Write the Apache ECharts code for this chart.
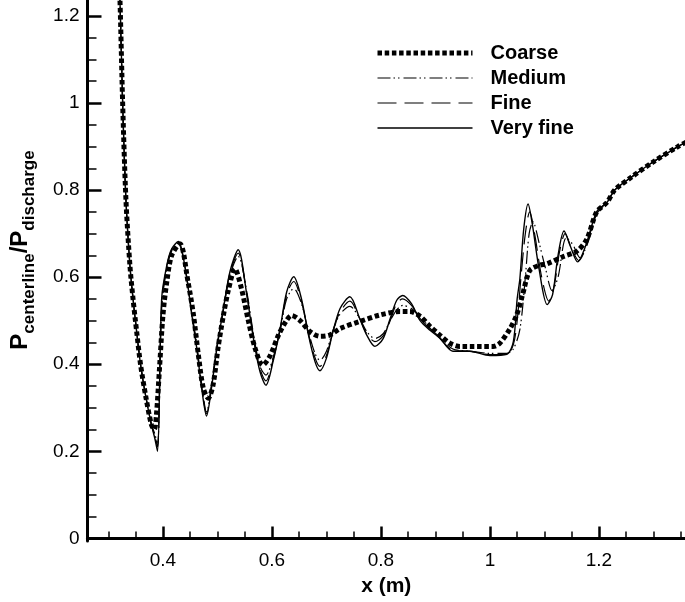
<!DOCTYPE html>
<html>
<head>
<meta charset="utf-8">
<script src="https://cdn.jsdelivr.net/npm/echarts@6/dist/echarts.min.js"></script>
<style>
  html, body { margin: 0; padding: 0; background: #fff; }
  #chart { width: 685px; height: 602px; }
</style>
</head>
<body>
<div id="chart"></div>
<script>
// tick positions
const xTicks = [0.4, 0.6, 0.8, 1, 1.2]
const xMinor = [0.3, 0.35, 0.45, 0.5, 0.55, 0.65, 0.7, 0.75, 0.85, 0.9, 0.95, 1.05, 1.1, 1.15, 1.25, 1.3, 1.35]
const yTicks = [0, 0.2, 0.4, 0.6, 0.8, 1, 1.2]
const yMinor = [0.05, 0.1, 0.15, 0.25, 0.3, 0.35, 0.45, 0.5, 0.55, 0.65, 0.7, 0.75, 0.85, 0.9, 0.95, 1.05, 1.1, 1.15]

// Very fine mesh (solid)
const veryFineX = [0.316, 0.321, 0.326, 0.332, 0.3394, 0.345, 0.3517, 0.359, 0.369, 0.379,
  0.385, 0.390, 0.3976, 0.407, 0.416, 0.428, 0.44, 0.453, 0.462, 0.471,
  0.48, 0.489, 0.499, 0.511, 0.523, 0.538, 0.554, 0.566, 0.578, 0.589,
  0.602, 0.615, 0.627, 0.640, 0.654, 0.667, 0.679, 0.688, 0.700, 0.712,
  0.725, 0.743, 0.761, 0.774, 0.789, 0.804, 0.817, 0.829, 0.840, 0.856,
  0.872, 0.89, 0.908, 0.932, 0.963, 1.0, 1.031, 1.043, 1.05, 1.055,
  1.062, 1.07, 1.078, 1.09, 1.105, 1.115, 1.125, 1.136, 1.148, 1.161,
  1.175, 1.196, 1.215, 1.229, 1.26, 1.30, 1.345, 1.36]
const veryFineY = [1.40, 1.24, 1.0, 0.779, 0.626, 0.551, 0.475, 0.398, 0.322, 0.26,
  0.23, 0.20, 0.551, 0.627, 0.665, 0.682, 0.627, 0.513, 0.437, 0.345,
  0.281, 0.345, 0.437, 0.528, 0.613, 0.663, 0.558, 0.459, 0.383, 0.352,
  0.406, 0.482, 0.566, 0.601, 0.551, 0.467, 0.406, 0.385, 0.414, 0.475,
  0.528, 0.555, 0.505, 0.467, 0.441, 0.459, 0.505, 0.547, 0.558, 0.539,
  0.50, 0.478, 0.46, 0.43, 0.43, 0.42, 0.423, 0.452, 0.55, 0.597,
  0.71, 0.768, 0.72, 0.62, 0.537, 0.56, 0.65, 0.706, 0.67, 0.635,
  0.67, 0.75, 0.772, 0.80, 0.83, 0.865, 0.90, 0.91]

// Fine mesh (long dash)
const fineX = [0.316, 0.321, 0.326, 0.332, 0.3394, 0.345, 0.3517, 0.359, 0.369, 0.379,
  0.385, 0.390, 0.3976, 0.407, 0.416, 0.428, 0.44, 0.453, 0.462, 0.471,
  0.48, 0.489, 0.499, 0.511, 0.523, 0.538, 0.554, 0.566, 0.578, 0.589,
  0.602, 0.615, 0.627, 0.640, 0.654, 0.667, 0.679, 0.688, 0.700, 0.712,
  0.725, 0.743, 0.761, 0.774, 0.789, 0.804, 0.817, 0.829, 0.840, 0.856,
  0.872, 0.89, 0.908, 0.932, 0.963, 1.0, 1.031, 1.043, 1.05, 1.057,
  1.065, 1.073, 1.082, 1.095, 1.108, 1.118, 1.128, 1.138, 1.15, 1.163,
  1.178, 1.196, 1.215, 1.229, 1.26, 1.30, 1.345, 1.36]
const fineY = [1.40, 1.24, 1.0, 0.779, 0.626, 0.551, 0.475, 0.398, 0.322, 0.26,
  0.235, 0.21, 0.54, 0.625, 0.663, 0.68, 0.627, 0.515, 0.44, 0.35,
  0.286, 0.35, 0.44, 0.528, 0.61, 0.655, 0.56, 0.465, 0.39, 0.362,
  0.41, 0.48, 0.56, 0.59, 0.545, 0.47, 0.415, 0.395, 0.42, 0.475,
  0.52, 0.545, 0.505, 0.47, 0.452, 0.465, 0.5, 0.54, 0.55, 0.535,
  0.505, 0.48, 0.46, 0.432, 0.43, 0.422, 0.423, 0.445, 0.50, 0.60,
  0.70, 0.75, 0.70, 0.60, 0.545, 0.58, 0.66, 0.70, 0.665, 0.638,
  0.675, 0.75, 0.772, 0.80, 0.83, 0.865, 0.90, 0.91]

// Medium mesh (dash-dot-dot)
const mediumX = [0.316, 0.321, 0.326, 0.332, 0.3394, 0.345, 0.3517, 0.359, 0.369, 0.379,
  0.385, 0.390, 0.3976, 0.407, 0.416, 0.428, 0.44, 0.453, 0.462, 0.471,
  0.48, 0.489, 0.499, 0.511, 0.523, 0.538, 0.554, 0.566, 0.578, 0.589,
  0.602, 0.615, 0.627, 0.640, 0.654, 0.667, 0.679, 0.688, 0.700, 0.712,
  0.725, 0.743, 0.761, 0.774, 0.789, 0.804, 0.817, 0.829, 0.840, 0.856,
  0.872, 0.89, 0.908, 0.932, 0.963, 1.0, 1.031, 1.043, 1.055, 1.065,
  1.072, 1.079, 1.09, 1.102, 1.114, 1.125, 1.14, 1.152, 1.165, 1.18,
  1.196, 1.215, 1.229, 1.26, 1.30, 1.345, 1.36]
const mediumY = [1.40, 1.24, 1.0, 0.779, 0.626, 0.551, 0.475, 0.398, 0.322, 0.26,
  0.24, 0.215, 0.53, 0.62, 0.66, 0.678, 0.625, 0.518, 0.445, 0.355,
  0.29, 0.352, 0.44, 0.525, 0.605, 0.648, 0.565, 0.47, 0.395, 0.375,
  0.415, 0.478, 0.55, 0.574, 0.54, 0.475, 0.425, 0.409, 0.43, 0.478,
  0.515, 0.533, 0.505, 0.475, 0.459, 0.47, 0.5, 0.525, 0.535, 0.528,
  0.51, 0.483, 0.462, 0.435, 0.43, 0.425, 0.425, 0.435, 0.48, 0.60,
  0.70, 0.727, 0.68, 0.62, 0.569, 0.60, 0.69, 0.675, 0.645, 0.68,
  0.745, 0.772, 0.80, 0.83, 0.865, 0.90, 0.91]

// Coarse mesh (thick dotted)
const coarseX = [0.316, 0.321, 0.326, 0.332, 0.3394, 0.345, 0.3517, 0.359, 0.369, 0.379,
  0.384, 0.388, 0.394, 0.4, 0.407, 0.416, 0.431, 0.446, 0.456, 0.465,
  0.474, 0.483, 0.492, 0.501, 0.511, 0.52, 0.532, 0.544, 0.557, 0.569,
  0.583, 0.596, 0.612, 0.627, 0.636, 0.651, 0.670, 0.688, 0.706, 0.725,
  0.761, 0.798, 0.835, 0.853, 0.872, 0.89, 0.908, 0.927, 0.945, 1.006,
  1.018, 1.037, 1.049, 1.06, 1.073, 1.09, 1.105, 1.134, 1.16, 1.178,
  1.196, 1.215, 1.229, 1.26, 1.30, 1.345, 1.36]
const coarseY = [1.40, 1.24, 1.0, 0.779, 0.626, 0.551, 0.475, 0.398, 0.322, 0.26,
  0.25, 0.284, 0.398, 0.513, 0.589, 0.65, 0.677, 0.589, 0.513, 0.421,
  0.345, 0.322, 0.353, 0.437, 0.513, 0.57, 0.619, 0.574, 0.498, 0.437,
  0.398, 0.418, 0.467, 0.501, 0.512, 0.501, 0.475, 0.464, 0.467, 0.482,
  0.498, 0.513, 0.521, 0.521, 0.51, 0.487, 0.467, 0.448, 0.441, 0.441,
  0.448, 0.482, 0.513, 0.56, 0.615, 0.627, 0.631, 0.647, 0.66, 0.688,
  0.75, 0.772, 0.80, 0.83, 0.865, 0.90, 0.91]

const pairs = (xs, ys) => xs.map((x, i) => [x, ys[i]])
const font = 'Liberation Sans'
const fmt = v => String(v)

const chart = echarts.init(document.getElementById('chart'), null, { renderer: 'canvas' })
chart.setOption({
  animation: false,
  grid: { left: 87.5, right: 0, top: 0, bottom: 58.4 },
  legend: {
    orient: 'vertical',
    left: 370,
    top: 38,
    itemWidth: 95,
    itemHeight: 14,
    itemGap: 5,
    data: ['Coarse', 'Medium', 'Fine', 'Very fine'],
    itemStyle: { opacity: 0 },
    lineStyle: { width: 'inherit' },
    textStyle: { fontFamily: font, fontWeight: 'bold', fontSize: 20, color: '#000', padding: [0, 0, 0, 13] }
  },
  // y axis title with subscripts
  graphic: [{
    type: 'text',
    x: 20,
    y: 250,
    rotation: Math.PI / 2,
    style: {
      text: '{p|P}{s|centerline}{p|/P}{s|discharge}',
      align: 'center',
      verticalAlign: 'middle',
      rich: {
        p: { fontFamily: font, fontWeight: 'bold', fontSize: 24, lineHeight: 24, fill: '#000' },
        s: { fontFamily: font, fontWeight: 'bold', fontSize: 17, lineHeight: 17, fill: '#000', padding: [18, 0, 0, 0] }
      }
    }
  }],
  xAxis: [{
    type: 'value',
    min: 0.2615,
    max: 1.358,
    name: 'x (m)',
    nameLocation: 'middle',
    nameGap: 35,
    nameTextStyle: { fontFamily: font, fontWeight: 'bold', fontSize: 21, color: '#000' },
    axisLine: { lineStyle: { color: '#000', width: 3 } },
    axisTick: { inside: true, length: 12, customValues: xTicks, lineStyle: { color: '#000', width: 2.5 } },
    axisLabel: { customValues: xTicks, formatter: fmt, margin: 10, fontFamily: font, fontSize: 19, color: '#000' },
    splitLine: { show: false }
  }, {
    type: 'value',
    position: 'bottom',
    min: 0.2615,
    max: 1.358,
    axisLine: { show: false },
    axisTick: { inside: true, length: 7, customValues: xMinor, lineStyle: { color: '#000', width: 1.5 } },
    axisLabel: { show: false },
    splitLine: { show: false }
  }],
  yAxis: [{
    type: 'value',
    min: -0.006,
    max: 1.2366,
    axisLine: { lineStyle: { color: '#000', width: 3 } },
    axisTick: { inside: true, length: 14, customValues: yTicks, lineStyle: { color: '#000', width: 2.5 } },
    axisLabel: { customValues: yTicks, formatter: fmt, margin: 8, fontFamily: font, fontSize: 19, color: '#000' },
    splitLine: { show: false }
  }, {
    type: 'value',
    position: 'left',
    min: -0.006,
    max: 1.2366,
    axisLine: { show: false },
    axisTick: { inside: true, length: 9, customValues: yMinor, lineStyle: { color: '#000', width: 1.5 } },
    axisLabel: { show: false },
    splitLine: { show: false }
  }],
  series: [
    {
      name: 'Very fine', type: 'line', data: pairs(veryFineX, veryFineY),
      symbol: 'none', smooth: 0.3, lineStyle: { color: '#000', width: 1.4 }, itemStyle: { color: '#000' }
    },
    {
      name: 'Fine', type: 'line', data: pairs(fineX, fineY),
      symbol: 'none', smooth: 0.3, lineStyle: { color: '#000', width: 1.2, type: [19, 8] }, itemStyle: { color: '#000' }
    },
    {
      name: 'Medium', type: 'line', data: pairs(mediumX, mediumY),
      symbol: 'none', smooth: 0.3, lineStyle: { color: '#000', width: 1.2, type: [13, 3, 1.5, 3, 1.5, 4] }, itemStyle: { color: '#000' }
    },
    {
      name: 'Coarse', type: 'line', data: pairs(coarseX, coarseY),
      symbol: 'none', smooth: 0.3, lineStyle: { color: '#000', width: 5, type: [4.5, 2.7], cap: 'butt' }, itemStyle: { color: '#000' }
    }
  ]
})
</script>
</body>
</html>
